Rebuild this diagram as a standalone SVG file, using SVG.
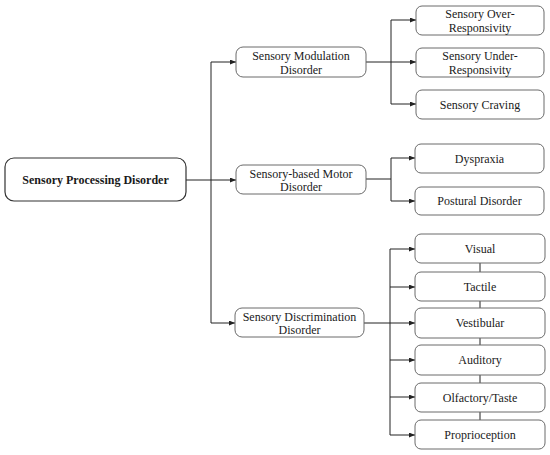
<svg xmlns="http://www.w3.org/2000/svg" width="550" height="455" viewBox="0 0 550 455">
<defs>
<marker id="arr" markerWidth="6" markerHeight="5" refX="6" refY="2.5" orient="auto" markerUnits="userSpaceOnUse">
<path d="M0,0 L6,2.5 L0,5 z" fill="#222"/>
</marker>
<style>
.box{fill:#fff;stroke:#6a6a6a;stroke-width:1}
.root{fill:#fff;stroke:#333;stroke-width:1.2}
text{font-size:12px;fill:#1a1a1a;text-anchor:middle}
.b{font-weight:bold}
.ln{fill:none;stroke:#222;stroke-width:1}
.ar{marker-end:url(#arr)}
</style>
</defs>
<rect width="550" height="455" fill="#fff"/>
<g id="connectors">
<path class="ln" d="M186,180 H211 M211,62 V323"/>
<path class="ln ar" d="M211,180 H236"/>
<path class="ln ar" d="M211,62 H236"/>
<path class="ln ar" d="M211,323 H235"/>
<path class="ln" d="M366,62 H391 M391,20 V104"/>
<path class="ln ar" d="M391,20 H416"/>
<path class="ln ar" d="M391,62 H416"/>
<path class="ln ar" d="M391,104 H416"/>
<path class="ln" d="M366,179 H391 M391,158 V201"/>
<path class="ln ar" d="M391,158 H415"/>
<path class="ln ar" d="M391,201 H415"/>
<path class="ln" d="M364,323 H390 M390,249 V435"/>
<path class="ln ar" d="M390,249 H415"/>
<path class="ln ar" d="M390,287 H415"/>
<path class="ln ar" d="M390,323 H415"/>
<path class="ln ar" d="M390,360 H415"/>
<path class="ln ar" d="M390,397 H415"/>
<path class="ln ar" d="M390,435 H415"/>
<path class="ln" d="M480,263 V272 M480,301 V308 M480,338 V345 M480,375 V383 M480,412 V420"/>
</g>
<g font-family="'Liberation Serif', 'Times New Roman', serif">
<g id="root"><rect class="root" x="5" y="158" width="181" height="43" rx="9"/><text class="b" x="95.5" y="184">Sensory Processing Disorder</text></g>
<g id="modulation"><rect class="box" x="236" y="47" width="130" height="30" rx="7"/><text x="301" y="60">Sensory Modulation</text><text x="301" y="73.5">Disorder</text></g>
<g id="motor"><rect class="box" x="236" y="165" width="130" height="29" rx="7"/><text x="301" y="177.5">Sensory-based Motor</text><text x="301" y="191">Disorder</text></g>
<g id="discrimination"><rect class="box" x="235" y="308" width="129" height="29" rx="7"/><text x="299.5" y="320.5">Sensory Discrimination</text><text x="299.5" y="334">Disorder</text></g>
<g id="over"><rect class="box" x="416" y="6" width="128" height="29" rx="6"/><text x="480" y="18">Sensory Over-</text><text x="480" y="31.5">Responsivity</text></g>
<g id="under"><rect class="box" x="416" y="48" width="128" height="29" rx="6"/><text x="480" y="60">Sensory Under-</text><text x="480" y="73.5">Responsivity</text></g>
<g id="craving"><rect class="box" x="416" y="90" width="128" height="29" rx="6"/><text x="480" y="108.5">Sensory Craving</text></g>
<g id="dyspraxia"><rect class="box" x="415" y="144" width="129" height="29" rx="6"/><text x="479.5" y="162.5">Dyspraxia</text></g>
<g id="postural"><rect class="box" x="415" y="187" width="129" height="28" rx="6"/><text x="479.5" y="205">Postural Disorder</text></g>
<g id="visual"><rect class="box" x="415" y="234" width="130" height="29" rx="6"/><text x="480" y="252.5">Visual</text></g>
<g id="tactile"><rect class="box" x="415" y="272" width="130" height="29" rx="6"/><text x="480" y="290.5">Tactile</text></g>
<g id="vestibular"><rect class="box" x="415" y="308" width="130" height="30" rx="6"/><text x="480" y="327">Vestibular</text></g>
<g id="auditory"><rect class="box" x="415" y="345" width="130" height="30" rx="6"/><text x="480" y="364">Auditory</text></g>
<g id="olfactory"><rect class="box" x="415" y="383" width="130" height="29" rx="6"/><text x="480" y="401.5">Olfactory/Taste</text></g>
<g id="proprioception"><rect class="box" x="415" y="420" width="130" height="29" rx="6"/><text x="480" y="438.5">Proprioception</text></g>
</g>
</svg>
